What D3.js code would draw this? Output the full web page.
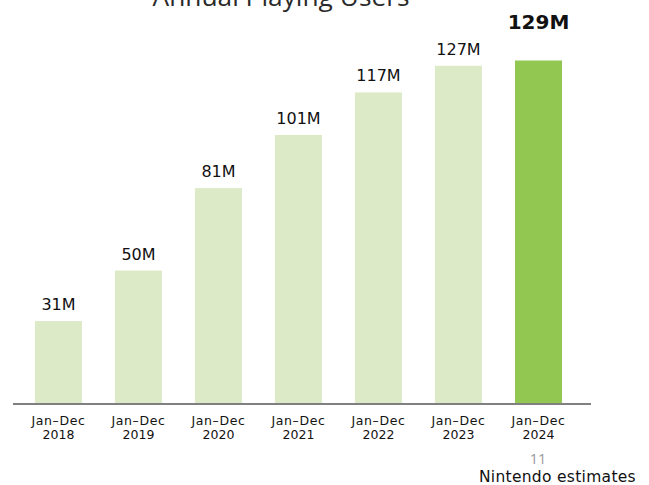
<!DOCTYPE html>
<html>
<head>
<meta charset="utf-8">
<script src="https://cdn.jsdelivr.net/npm/d3@7"></script>
<style>
  html, body { margin: 0; padding: 0; background: #fff; }
  svg { display: block; }
</style>
</head>
<body>
<svg id="chart" width="649" height="485"></svg>
<script>
// Annual playing users per calendar year (millions)
const years = ["2018", "2019", "2020", "2021", "2022", "2023", "2024"];
const periods = ["Jan\u2013Dec", "Jan\u2013Dec", "Jan\u2013Dec", "Jan\u2013Dec", "Jan\u2013Dec", "Jan\u2013Dec", "Jan\u2013Dec"];
const users = [31, 50, 81, 101, 117, 127, 129];
const valueLabels = ["31M", "50M", "81M", "101M", "117M", "127M", "129M"];
const highlightYear = "2024";

const svg = d3.select("#chart");
const FONT = "'DejaVu Sans', Verdana, sans-serif";

const x = d3.scaleBand()
  .domain(years)
  .range([35, 562])
  .paddingInner(0.4125)
  .paddingOuter(0);

const baseline = 403.5;
const y = d3.scaleLinear()
  .domain([0, 129])
  .range([baseline, 60.5]);

// Title (runs off the top edge)
svg.append("text")
  .attr("x", 281)
  .attr("y", 5.5)
  .attr("text-anchor", "middle")
  .attr("font-family", "'Open Sans', 'Noto Sans', sans-serif")
  .attr("font-size", 26.3)
  .attr("fill", "#2a2a2a")
  .text("Annual Playing Users");

// Bars
svg.append("g").selectAll("rect")
  .data(years)
  .join("rect")
  .attr("x", d => x(d))
  .attr("width", x.bandwidth())
  .attr("y", (d, i) => y(users[i]))
  .attr("height", (d, i) => baseline - y(users[i]))
  .attr("fill", d => d === highlightYear ? "#92c851" : "#ddeac8");

// Value labels
svg.append("g").selectAll("text")
  .data(years)
  .join("text")
  .attr("x", d => x(d) + x.bandwidth() / 2)
  .attr("y", (d, i) => d === highlightYear ? y(users[i]) - 32 : y(users[i]) - 11)
  .attr("text-anchor", "middle")
  .attr("font-family", FONT)
  .attr("font-size", d => d === highlightYear ? 20 : 16)
  .attr("font-weight", d => d === highlightYear ? "bold" : "normal")
  .attr("fill", "#111")
  .text((d, i) => valueLabels[i]);

// Category axis: baseline rule plus two-line tick labels
const xAxis = d3.axisBottom(x).tickSize(0).tickPadding(0).tickFormat("");
const axisG = svg.append("g")
  .attr("transform", `translate(0,${baseline})`)
  .call(xAxis);
axisG.select(".domain").remove();

svg.append("line")
  .attr("x1", 13).attr("x2", 591)
  .attr("y1", baseline + 0.5).attr("y2", baseline + 0.5)
  .attr("stroke", "#808080")
  .attr("stroke-width", 2);

axisG.selectAll(".tick").each(function(d, i) {
  const t = d3.select(this).append("text")
    .attr("text-anchor", "middle")
    .attr("font-family", FONT)
    .attr("font-size", 12.5)
    .attr("fill", "#111");
  t.append("tspan").attr("x", 0).attr("y", 21.5)
    .attr("letter-spacing", 0.6).text(periods[i]);
  t.append("tspan").attr("x", 0).attr("y", 35.5).text(d);
});

// Page number
svg.append("text")
  .attr("x", 538)
  .attr("y", 463.5)
  .attr("text-anchor", "middle")
  .attr("font-family", "'Open Sans', 'Noto Sans', sans-serif")
  .attr("font-size", 14.5)
  .attr("fill", "#999")
  .text("11");

// Source note
svg.append("text")
  .attr("x", 636)
  .attr("y", 481.5)
  .attr("text-anchor", "end")
  .attr("font-family", FONT)
  .attr("font-size", 15.5)
  .attr("letter-spacing", 0.3)
  .attr("fill", "#111")
  .text("Nintendo estimates");
</script>
</body>
</html>
